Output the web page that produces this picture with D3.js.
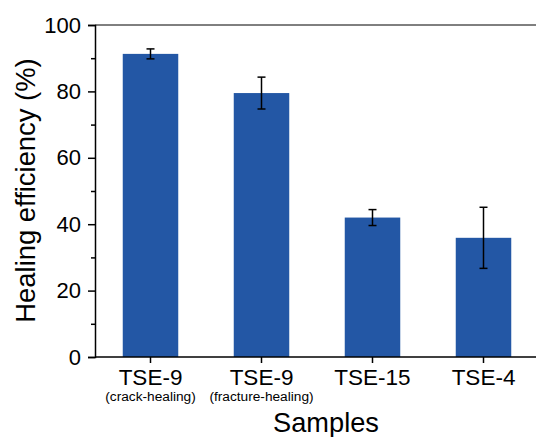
<!DOCTYPE html>
<html>
<head>
<meta charset="utf-8">
<title>Healing efficiency</title>
<style>
  body { margin: 0; background: #fff; }
  text { font-family: "Liberation Sans", Arial, sans-serif; fill: #000; }
</style>
<script src="https://d3js.org/d3.v7.min.js"></script>
</head>
<body>
<div id="chart"></div>
<script>
// data
var samples = ["TSE-9", "TSE-9", "TSE-15", "TSE-4"];
var subLabels = ["(crack-healing)", "(fracture-healing)", "", ""];
var efficiency = [91.3, 79.5, 42.0, 35.9];
var errors = [1.5, 4.8, 2.4, 9.2];
var yTicks = [0, 20, 40, 60, 80, 100];
var yMinorTicks = [10, 30, 50, 70, 90];

var W = 536, H = 437;
var margin = {top: 25, left: 95, bottom: 80};
var plotH = H - margin.top - margin.bottom; // ~332
var plotW = 444;

var svg = d3.select("#chart").append("svg")
  .attr("width", W)
  .attr("height", H);

var g = svg.append("g")
  .attr("transform", "translate(" + margin.left + "," + margin.top + ")");

var x = d3.scaleBand()
  .domain(d3.range(samples.length))
  .range([0, plotW])
  .paddingInner(0.5)
  .paddingOuter(0.25);

var y = d3.scaleLinear()
  .domain([0, 100])
  .range([plotH, 0]);

// bars
g.selectAll("rect.bar")
  .data(efficiency)
  .enter().append("rect")
  .attr("class", "bar")
  .attr("x", (d, i) => x(i))
  .attr("y", d => y(d))
  .attr("width", x.bandwidth())
  .attr("height", d => y(0) - y(d))
  .attr("fill", "#2357a5");

// error bars
var eb = g.selectAll("g.err")
  .data(efficiency)
  .enter().append("g")
  .attr("class", "err")
  .attr("stroke", "#000")
  .attr("stroke-width", 1.5);

var cx = i => x(i) + x.bandwidth() / 2;
eb.append("line")
  .attr("x1", (d, i) => cx(i)).attr("x2", (d, i) => cx(i))
  .attr("y1", (d, i) => y(d + errors[i]))
  .attr("y2", (d, i) => y(d - errors[i]));
eb.append("line")
  .attr("x1", (d, i) => cx(i) - 4).attr("x2", (d, i) => cx(i) + 4)
  .attr("y1", (d, i) => y(d + errors[i]))
  .attr("y2", (d, i) => y(d + errors[i]));
eb.append("line")
  .attr("x1", (d, i) => cx(i) - 4).attr("x2", (d, i) => cx(i) + 4)
  .attr("y1", (d, i) => y(d - errors[i]))
  .attr("y2", (d, i) => y(d - errors[i]));

// y axis
var yAxis = g.append("g")
  .call(d3.axisLeft(y).tickValues(yTicks).tickSize(7).tickPadding(7));
yAxis.selectAll("text").style("font-size", "22px");
g.append("g")
  .call(d3.axisLeft(y).tickValues(yMinorTicks).tickSize(4).tickFormat(""))
  .select(".domain").remove();

// x axis
var xAxis = g.append("g")
  .attr("transform", "translate(0," + plotH + ")")
  .call(d3.axisBottom(x).tickSize(6).tickPadding(6).tickFormat(i => samples[i]));
xAxis.select(".domain").attr("d", "M0,0H" + plotW);
xAxis.selectAll("text").style("font-size", "22.5px");

g.selectAll(".sub")
  .data(subLabels)
  .enter().append("text")
  .attr("class", "sub")
  .attr("x", (d, i) => cx(i))
  .attr("y", plotH + 44)
  .attr("text-anchor", "middle")
  .style("font-size", "13.7px")
  .text(d => d);

// top frame line
g.append("line")
  .attr("x1", 0).attr("x2", plotW)
  .attr("y1", 0).attr("y2", 0)
  .attr("stroke", "#000");

g.selectAll(".domain, .tick line").attr("stroke", "#000").attr("stroke-width", 1.5);

// axis titles
svg.append("text")
  .attr("transform", "translate(35," + 190.5 + ") rotate(-90)")
  .attr("text-anchor", "middle")
  .style("font-size", "27.4px")
  .text("Healing efficiency (%)");

svg.append("text")
  .attr("x", 326)
  .attr("y", 432)
  .attr("text-anchor", "middle")
  .style("font-size", "27.2px")
  .text("Samples");
</script>
</body>
</html>
